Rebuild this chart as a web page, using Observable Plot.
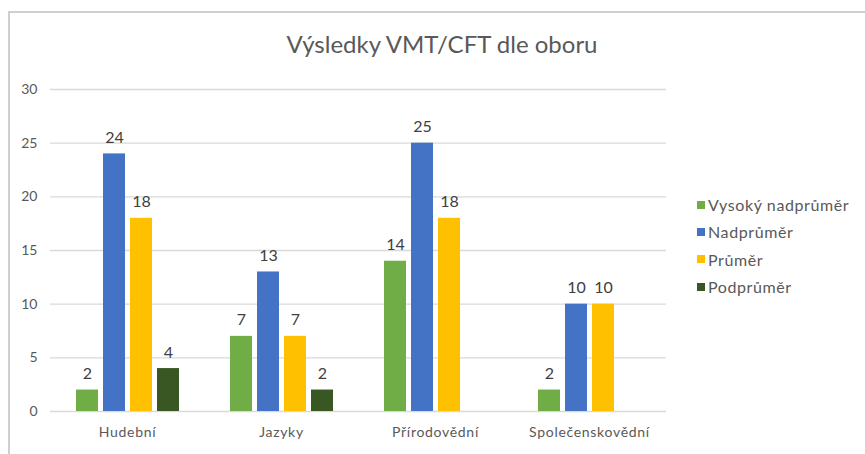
<!DOCTYPE html>
<html>
<head>
<meta charset="utf-8">
<script src="https://cdn.jsdelivr.net/npm/d3@7"></script>
<script src="https://cdn.jsdelivr.net/npm/@observablehq/plot@0.6"></script>
<style>
  body { margin: 0; background: #fff; }
  #wrap { position: relative; width: 865px; height: 454px; overflow: hidden; font-family: Lato, sans-serif; }
  #frame { position: absolute; left: 8px; top: 11px; width: 900px; height: 500px; border-left: 2px solid #cfcfcf; border-top: 2px solid #cfcfcf; box-sizing: border-box; }
  #title { position: absolute; left: 442px; top: 32px; transform: translateX(-50%); font-size: 24px; line-height: 24px; color: #595959; white-space: nowrap; }
  #legend { position: absolute; left: 697px; top: 191px; }
  .item { height: 27.3px; display: flex; align-items: center; font-size: 16px; letter-spacing: 0.6px; color: #595959; white-space: nowrap; }
  .sw { width: 8px; height: 8px; margin-right: 3px; }
  #chart { position: absolute; left: 0; top: 0; }
  #chart g[aria-label="fx-axis tick label"] text { letter-spacing: 0.7px; }
</style>
</head>
<body>
<div id="wrap">
  <div id="frame"></div>
  <div id="chart"></div>
  <div id="title">Výsledky VMT/CFT dle oboru</div>
  <div id="legend"></div>
</div>
<script>
const categories = ["Hudební", "Jazyky", "Přírodovědní", "Společenskovědní"];
const series = ["Vysoký nadprůměr", "Nadprůměr", "Průměr", "Podprůměr"];
const vysokyNadprumer = [2, 7, 14, 2];
const nadprumer = [24, 13, 25, 10];
const prumer = [18, 7, 18, 10];
const podprumer = [4, 2, null, null];
const colors = ["#70AD47", "#4472C4", "#FFC000", "#385723"];
const yTicks = [0, 5, 10, 15, 20, 25, 30];

const seriesValues = [vysokyNadprumer, nadprumer, prumer, podprumer];
const data = [];
categories.forEach((c, i) => {
  series.forEach((s, j) => {
    const v = seriesValues[j][i];
    if (v != null) data.push({category: c, series: s, value: v});
  });
});

const chart = Plot.plot({
  width: 865,
  height: 454,
  marginLeft: 50,
  marginRight: 199,
  marginTop: 89,
  marginBottom: 43,
  style: {background: "transparent", color: "#595959", fontFamily: "Lato, sans-serif", fontSize: "14px"},
  fx: {domain: categories, padding: 0, label: null, tickSize: 0, tickPadding: 16, axis: "bottom"},
  x: {domain: series, paddingInner: 0.2, paddingOuter: 0.9, axis: null},
  y: {domain: [0, 30], ticks: yTicks, label: null, tickSize: 0, tickPadding: 13},
  color: {domain: series, range: colors},
  marks: [
    Plot.ruleY(yTicks, {stroke: "#d9d9d9", strokeWidth: 1.3}),
    Plot.barY(data, {fx: "category", x: "series", y: "value", fill: "series"}),
    Plot.text(data, {fx: "category", x: "series", y: "value", text: d => String(d.value), lineAnchor: "bottom", dy: -11, fill: "#404040", fontSize: 16})
  ]
});
document.getElementById("chart").appendChild(chart);

const legend = document.getElementById("legend");
series.forEach((s, j) => {
  const item = document.createElement("div");
  item.className = "item";
  const sw = document.createElement("div");
  sw.className = "sw";
  sw.style.background = colors[j];
  const label = document.createElement("span");
  label.textContent = s;
  item.appendChild(sw);
  item.appendChild(label);
  legend.appendChild(item);
});
</script>
</body>
</html>
